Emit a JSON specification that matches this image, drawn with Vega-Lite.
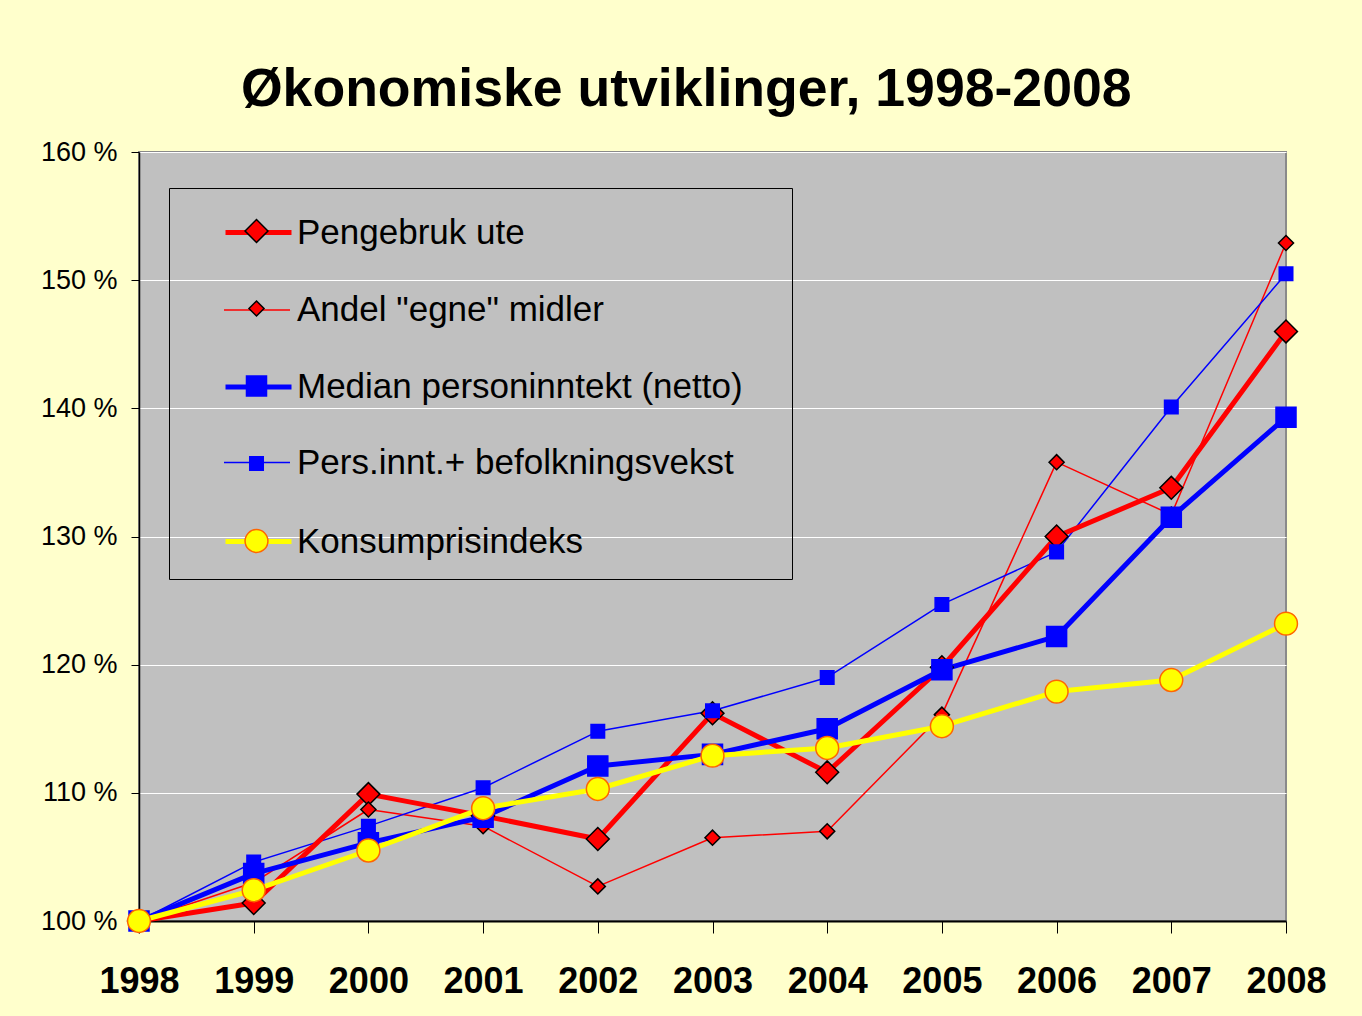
{
  "$schema": "https://vega.github.io/schema/vega-lite/v6.json",
  "width": 1147,
  "height": 769,
  "autosize": "none",
  "padding": {"left": 139, "top": 152, "right": 76, "bottom": 95},
  "background": "#FFFFCC",
  "title": {
    "text": "Økonomiske utviklinger, 1998-2008",
    "font": "Liberation Sans",
    "fontSize": 53.6,
    "fontWeight": "bold",
    "color": "#000000",
    "anchor": "middle",
    "frame": "bounds",
    "offset": 20,
    "dx": 3
  },
  "config": {
    "view": {"fill": "#C0C0C0", "stroke": "#8A8A8A", "strokeWidth": 2},
    "font": "Liberation Sans"
  },
  "data": {
    "values": [
      {"year": 1998, "series": "Pengebruk ute", "value": 100},
      {"year": 1999, "series": "Pengebruk ute", "value": 101.4},
      {"year": 2000, "series": "Pengebruk ute", "value": 109.9},
      {"year": 2001, "series": "Pengebruk ute", "value": 108.2},
      {"year": 2002, "series": "Pengebruk ute", "value": 106.4},
      {"year": 2003, "series": "Pengebruk ute", "value": 116.2},
      {"year": 2004, "series": "Pengebruk ute", "value": 111.6},
      {"year": 2005, "series": "Pengebruk ute", "value": 119.8},
      {"year": 2006, "series": "Pengebruk ute", "value": 130.0},
      {"year": 2007, "series": "Pengebruk ute", "value": 133.8},
      {"year": 2008, "series": "Pengebruk ute", "value": 146.0},
      {"year": 1998, "series": "Andel \"egne\" midler", "value": 100},
      {"year": 1999, "series": "Andel \"egne\" midler", "value": 103.0},
      {"year": 2000, "series": "Andel \"egne\" midler", "value": 108.7},
      {"year": 2001, "series": "Andel \"egne\" midler", "value": 107.4},
      {"year": 2002, "series": "Andel \"egne\" midler", "value": 102.7},
      {"year": 2003, "series": "Andel \"egne\" midler", "value": 106.5},
      {"year": 2004, "series": "Andel \"egne\" midler", "value": 107.0},
      {"year": 2005, "series": "Andel \"egne\" midler", "value": 116.1},
      {"year": 2006, "series": "Andel \"egne\" midler", "value": 135.8},
      {"year": 2007, "series": "Andel \"egne\" midler", "value": 131.7},
      {"year": 2008, "series": "Andel \"egne\" midler", "value": 152.9},
      {"year": 1998, "series": "Median personinntekt (netto)", "value": 100},
      {"year": 1999, "series": "Median personinntekt (netto)", "value": 103.7},
      {"year": 2000, "series": "Median personinntekt (netto)", "value": 106.1},
      {"year": 2001, "series": "Median personinntekt (netto)", "value": 108.1},
      {"year": 2002, "series": "Median personinntekt (netto)", "value": 112.1},
      {"year": 2003, "series": "Median personinntekt (netto)", "value": 113.0},
      {"year": 2004, "series": "Median personinntekt (netto)", "value": 115.0},
      {"year": 2005, "series": "Median personinntekt (netto)", "value": 119.6},
      {"year": 2006, "series": "Median personinntekt (netto)", "value": 122.2},
      {"year": 2007, "series": "Median personinntekt (netto)", "value": 131.5},
      {"year": 2008, "series": "Median personinntekt (netto)", "value": 139.3},
      {"year": 1998, "series": "Pers.innt.+ befolkningsvekst", "value": 100},
      {"year": 1999, "series": "Pers.innt.+ befolkningsvekst", "value": 104.6},
      {"year": 2000, "series": "Pers.innt.+ befolkningsvekst", "value": 107.4},
      {"year": 2001, "series": "Pers.innt.+ befolkningsvekst", "value": 110.4},
      {"year": 2002, "series": "Pers.innt.+ befolkningsvekst", "value": 114.8},
      {"year": 2003, "series": "Pers.innt.+ befolkningsvekst", "value": 116.4},
      {"year": 2004, "series": "Pers.innt.+ befolkningsvekst", "value": 119.0},
      {"year": 2005, "series": "Pers.innt.+ befolkningsvekst", "value": 124.7},
      {"year": 2006, "series": "Pers.innt.+ befolkningsvekst", "value": 128.8},
      {"year": 2007, "series": "Pers.innt.+ befolkningsvekst", "value": 140.1},
      {"year": 2008, "series": "Pers.innt.+ befolkningsvekst", "value": 150.5},
      {"year": 1998, "series": "Konsumprisindeks", "value": 100},
      {"year": 1999, "series": "Konsumprisindeks", "value": 102.4},
      {"year": 2000, "series": "Konsumprisindeks", "value": 105.5},
      {"year": 2001, "series": "Konsumprisindeks", "value": 108.8},
      {"year": 2002, "series": "Konsumprisindeks", "value": 110.3},
      {"year": 2003, "series": "Konsumprisindeks", "value": 112.9},
      {"year": 2004, "series": "Konsumprisindeks", "value": 113.5},
      {"year": 2005, "series": "Konsumprisindeks", "value": 115.2},
      {"year": 2006, "series": "Konsumprisindeks", "value": 117.9},
      {"year": 2007, "series": "Konsumprisindeks", "value": 118.8},
      {"year": 2008, "series": "Konsumprisindeks", "value": 123.2}
    ]
  },
  "encoding": {
    "x": {
      "field": "year",
      "type": "ordinal",
      "scale": {"type": "point", "padding": 0},
      "axis": {
        "title": null,
        "labelAngle": 0,
        "labelFont": "Liberation Sans",
        "labelFontSize": 36,
        "labelFontWeight": "bold",
        "labelColor": "#000000",
        "tickColor": "#000000",
        "tickSize": 12,
        "tickWidth": 1,
        "labelPadding": 31,
        "domainColor": "#000000",
        "domainWidth": 2,
        "grid": false
      }
    },
    "y": {
      "field": "value",
      "type": "quantitative",
      "scale": {"domain": [100, 160], "nice": false, "zero": false},
      "axis": {
        "title": null,
        "values": [100, 110, 120, 130, 140, 150, 160],
        "labelExpr": "datum.value + ' %'",
        "labelFont": "Liberation Sans",
        "labelFontSize": 27,
        "labelColor": "#000000",
        "tickColor": "#000000",
        "tickSize": 8,
        "labelPadding": 14,
        "domainColor": "#000000",
        "domainWidth": 1.5,
        "grid": true,
        "gridColor": "#FFFFFF",
        "gridWidth": 1,
        "gridOpacity": 1
      }
    }
  },
  "layer": [
    {
      "transform": [{"filter": {"field": "series", "oneOf": ["Andel \"egne\" midler", "Pers.innt.+ befolkningsvekst"]}}],
      "mark": {"type": "line", "strokeWidth": 1.5, "strokeJoin": "round", "strokeCap": "round"},
      "encoding": {
        "stroke": {
          "field": "series",
          "type": "nominal",
          "scale": {
            "domain": ["Andel \"egne\" midler", "Pers.innt.+ befolkningsvekst"],
            "range": ["#FF0000", "#0000FF"]
          },
          "legend": {
            "orient": "none",
            "legendX": 30,
            "legendY": 100,
            "title": null,
            "symbolType": "stroke",
            "symbolSize": 4356,
            "symbolOffset": 30,
            "symbolStrokeWidth": 1.5,
            "labelFont": "Liberation Sans",
            "labelFontSize": 35,
            "labelColor": "#000000",
            "labelOffset": 6,
            "labelLimit": 1000,
            "rowPadding": 100.5,
            "padding": 24
          }
        }
      }
    },
    {
      "transform": [{"filter": {"field": "series", "oneOf": ["Pengebruk ute", "Median personinntekt (netto)", "Konsumprisindeks"]}}],
      "mark": {"type": "line", "strokeWidth": 5, "strokeJoin": "round", "strokeCap": "round"},
      "encoding": {
        "stroke": {
          "field": "series",
          "type": "nominal",
          "scale": {
            "domain": ["Pengebruk ute", "Median personinntekt (netto)", "Konsumprisindeks"],
            "range": ["#FF0000", "#0000FF", "#FFFF00"]
          },
          "legend": {
            "orient": "none",
            "legendX": 30,
            "legendY": 21,
            "title": null,
            "symbolType": "stroke",
            "symbolSize": 4356,
            "symbolOffset": 30,
            "symbolStrokeWidth": 5,
            "labelFont": "Liberation Sans",
            "labelFontSize": 35,
            "labelColor": "#000000",
            "labelOffset": 3,
            "labelLimit": 1000,
            "rowPadding": 100.5,
            "padding": 24
          }
        }
      }
    },
    {
      "mark": {"type": "point", "filled": true, "opacity": 1, "strokeWidth": 1.5, "size": 676},
      "encoding": {
        "fill": {
          "field": "series",
          "type": "nominal",
          "scale": {
            "domain": ["Pengebruk ute", "Andel \"egne\" midler", "Median personinntekt (netto)", "Pers.innt.+ befolkningsvekst", "Konsumprisindeks"],
            "range": ["#FF0000", "#FF0000", "#0000FF", "#0000FF", "#FFFF00"]
          },
          "legend": {
            "orient": "none",
            "legendX": 30,
            "legendY": 36,
            "title": " ",
            "titleFontSize": 6,
            "titlePadding": 0,
            "symbolOffset": 50.5,
            "symbolSize": 676,
            "symbolStrokeWidth": 1.5,
            "labelFont": "Liberation Sans",
            "labelFontSize": 35,
            "labelColor": "transparent",
            "labelOffset": 52,
            "labelLimit": 1000,
            "rowPadding": 41.5,
            "padding": 19.5,
            "strokeColor": "#000000"
          }
        },
        "stroke": {
          "field": "series",
          "type": "nominal",
          "scale": {
            "domain": ["Pengebruk ute", "Andel \"egne\" midler", "Median personinntekt (netto)", "Pers.innt.+ befolkningsvekst", "Konsumprisindeks"],
            "range": ["#000000", "#000000", "#0000FF", "#0000FF", "#FF6600"]
          }
        },
        "shape": {
          "field": "series",
          "type": "nominal",
          "scale": {
            "domain": ["Pengebruk ute", "Andel \"egne\" midler", "Median personinntekt (netto)", "Pers.innt.+ befolkningsvekst", "Konsumprisindeks"],
            "range": [
              "M-0.88,0L0,-0.88L0.88,0L0,0.88Z",
              "M-0.58,0L0,-0.58L0.58,0L0,0.58Z",
              "M-0.77,-0.77L0.77,-0.77L0.77,0.77L-0.77,0.77Z",
              "M-0.52,-0.52L0.52,-0.52L0.52,0.52L-0.52,0.52Z",
              "M-0.88,0A0.88,0.88 0 1,0 0.88,0A0.88,0.88 0 1,0 -0.88,0Z"
            ]
          }
        }
      }
    }
  ],
  "resolve": {
    "scale": {"stroke": "independent", "fill": "independent", "shape": "independent"},
    "legend": {"stroke": "independent", "fill": "independent", "shape": "independent"}
  }
}
